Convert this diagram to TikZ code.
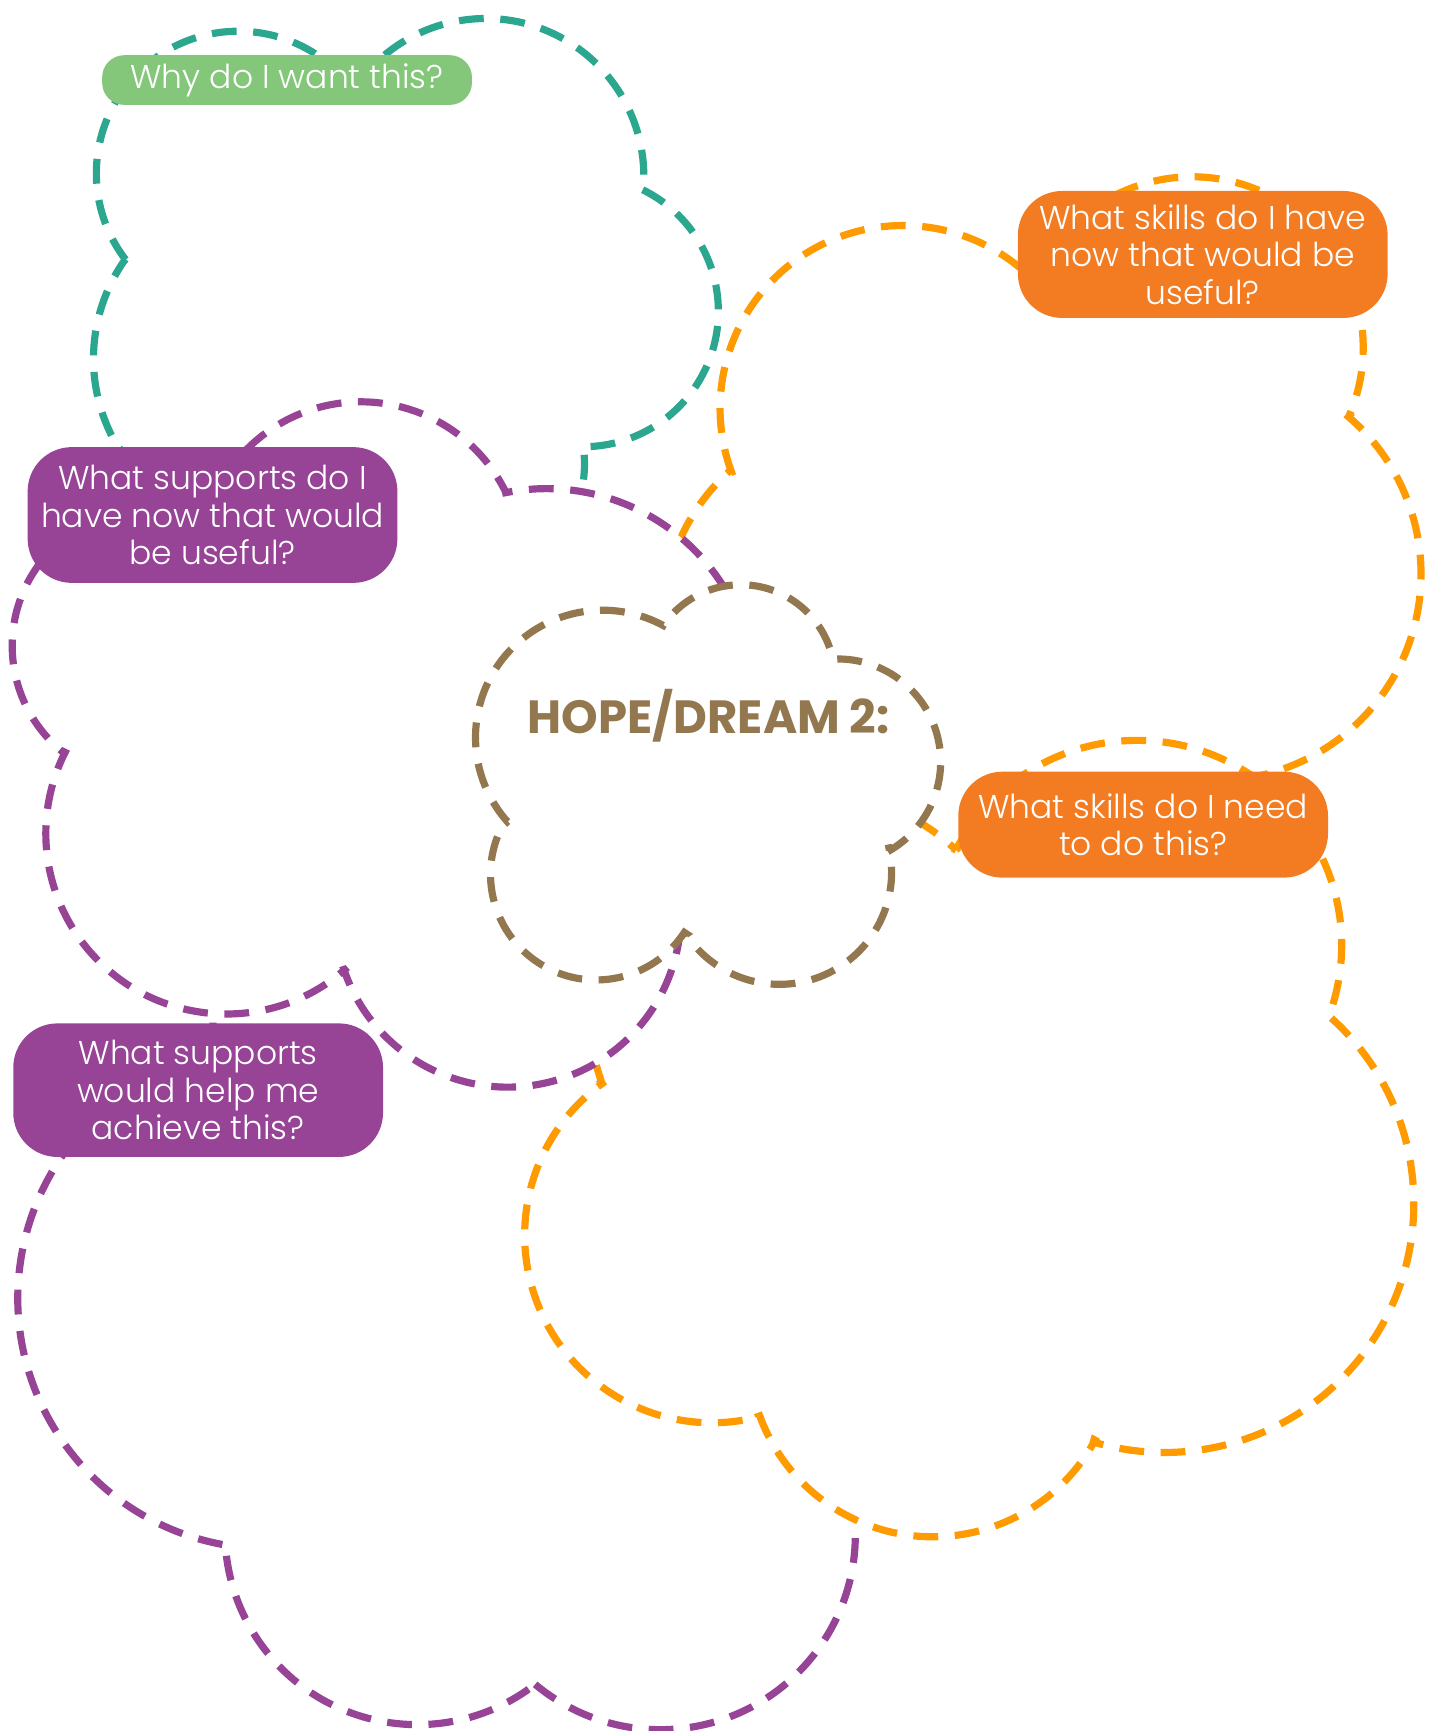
\documentclass[tikz,border=0pt]{standalone}
\usepackage{fontspec}
\setmainfont{Poppins}
\newfontfamily\lblfont{Poppins Light}
\usetikzlibrary{calc}

\definecolor{cTeal}{HTML}{2BA68F}
\definecolor{cGreen}{HTML}{84C77B}
\definecolor{cOrange}{HTML}{FF9A00}
\definecolor{cOrangeBox}{HTML}{F37C22}
\definecolor{cPurple}{HTML}{974497}
\definecolor{cBrown}{HTML}{93774F}

% one scallop of a cloud: centre #1, from point #2 clockwise to point #3
\newcommand\bump[3]{%
  let \p1=($(#2)-(#1)$), \p2=($(#3)-(#1)$),
      \n1={atan2(\y1,\x1)}, \n2={atan2(\y2,\x2)},
      \n3={(veclen(\x1,\y1)+veclen(\x2,\y2))/2},
      \n4={\n1-Mod(\n1-\n2,360)} in
  -- ($(#1)+(\n1:\n3)$) arc[start angle=\n1, end angle=\n4, radius=\n3] -- (#3)}

\begin{document}
\begin{tikzpicture}[x=0.02cm, y=-0.02cm,
  cloud/.style={line width=0.13cm, dash pattern=on 0.45cm off 0.3cm, fill=white},
  lbl/.style={inner sep=0pt, align=center, text=white, minimum width=6.7cm,
              rounded corners=0.8cm, font=\lblfont\fontsize{17}{19.3}\selectfont}]
\useasboundingbox (0,0) rectangle (1300,1568);

% teal cloud (top left)
\draw[cloud, draw=cTeal] (114,235)
  \bump{216,157}{114,235}{320,80}
  \bump{440,160}{320,80}{582,171}
  \bump{528,282}{582,171}{530,404}
  \bump{400,420}{530,404}{500,500}
  -- (200,470) -- (106,405)
  \bump{240,325}{106,405}{114,235} -- cycle;

% orange cloud (top right)
\draw[cloud, draw=cOrange] (662,428)
  \bump{818,370}{662,428}{937,255}
  \bump{1080,315}{937,255}{1222,377}
  \bump{1100,520}{1222,377}{1080,706}
  -- (950,780) -- (880,800) -- (790,790) -- (700,700) -- (650,640) -- (605,515)
  \bump{780,560}{605,515}{662,428} -- cycle;

% purple cloud (bottom left)
\draw[cloud, draw=cPurple] (100,1000) -- (193,960) -- (193,905) -- (300,865)
  -- (400,900) -- (545,930) -- (650,1100) -- (700,1250) -- (776,1370)
  \bump{598,1390}{776,1370}{485,1523}
  \bump{378,1388}{485,1523}{202,1398}
  \bump{243,1176}{202,1398}{60,1040} -- cycle;

% orange cloud (bottom right)
\draw[cloud, draw=cOrange] (866,770)
  \bump{1030,856}{866,770}{1205,918}
  \bump{1055,1090}{1205,918}{991,1304}
  \bump{845,1225}{991,1304}{687,1283}
  \bump{645,1119}{687,1283}{545,981}
  \bump{731,914}{545,981}{866,770} -- cycle;

% purple cloud (middle left)
\draw[cloud, draw=cPurple] (186,471)
  \bump{327,510}{186,471}{458,446}
  \bump{495,632}{458,446}{670,560}
  -- (700,700) -- (612,787)
  \bump{460,828}{612,787}{312,878}
  \bump{205,755}{312,878}{58,681}
  \bump{135,585}{58,681}{186,471} -- cycle;

% brown cloud (centre)
\draw[cloud, draw=cBrown] (460,744)
  \bump{546,668}{460,744}{601,566}
  \bump{671,615}{601,566}{754,595}
  \bump{759,690}{754,595}{806,768}
  \bump{706,790}{806,768}{622,846}
  \bump{540,792}{622,846}{460,744} -- cycle;

% question labels
\node[lbl, fill=cGreen, minimum height=0.9cm, rounded corners=0.4cm] (why) at (260,72.5)
  {Why do I want this?};
\node[lbl, fill=cOrangeBox, minimum height=2.3cm] (have) at (1089.5,230.5)
  {What skills do I have\\now that would be\\useful?};
\node[lbl, fill=cPurple, minimum height=2.46cm] (supnow) at (192.5,466.5)
  {What supports do I\\have now that would\\be useful?};
\node[lbl, fill=cOrangeBox, minimum height=1.92cm] (need) at (1035.5,747)
  {What skills do I need\\to do this?};
\node[lbl, fill=cPurple, minimum height=2.42cm] (suphelp) at (179.5,987.5)
  {What supports\\would help me\\achieve this?};

% title
\node[font=\bfseries\fontsize{24}{28}\selectfont, text=cBrown] (hope) at (642,648) {HOPE/DREAM 2:};
\end{tikzpicture}
\end{document}
